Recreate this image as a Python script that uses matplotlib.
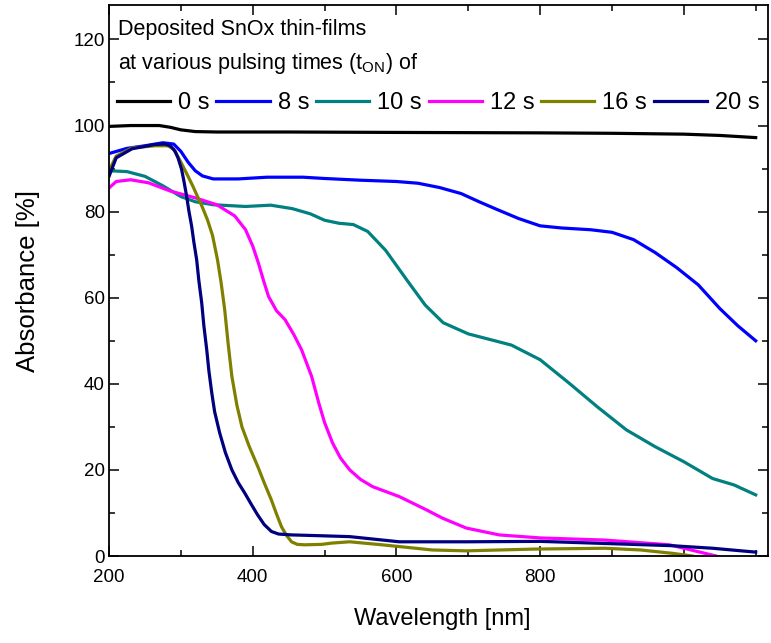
import matplotlib
matplotlib.use('Agg')
import matplotlib.pyplot as plt
from matplotlib.ticker import MultipleLocator

plt.rcParams['font.family'] = ['Liberation Sans', 'DejaVu Sans']
plt.rcParams['mathtext.fontset'] = 'custom'
plt.rcParams['mathtext.rm'] = 'Liberation Sans'
plt.rcParams['mathtext.it'] = 'Liberation Sans'

# absorbance spectra (wavelength nm, absorbance %)
wl_0s = [200, 230, 270, 285, 300, 320, 350, 450, 600, 800, 900, 1000, 1050, 1100]
ab_0s = [99.8, 100, 100, 99.6, 99.0, 98.6, 98.5, 98.5, 98.4, 98.3, 98.2, 98.0, 97.7, 97.2]

wl_8s = [200, 225, 250, 275, 290, 300, 310, 320, 330, 345, 380, 420, 470, 500, 550,
         600, 630, 660, 690, 715, 740, 770, 800, 830, 870, 900, 930, 960, 990, 1020,
         1050, 1075, 1100]
ab_8s = [93.5, 94.7, 95.3, 96.0, 95.7, 94.0, 91.5, 89.5, 88.3, 87.6, 87.6, 88.0, 88.0,
         87.7, 87.3, 87.0, 86.6, 85.6, 84.2, 82.3, 80.5, 78.4, 76.7, 76.2, 75.8, 75.2,
         73.5, 70.5, 67.0, 63.0, 57.5, 53.5, 50.0]

wl_10s = [200, 225, 250, 275, 300, 320, 345, 390, 425, 455, 480, 500, 520, 540, 560,
          585, 615, 640, 665, 700, 760, 800, 840, 880, 920, 960, 1000, 1040, 1070, 1100]
ab_10s = [89.5, 89.3, 88.2, 86.0, 83.5, 82.3, 81.6, 81.2, 81.5, 80.7, 79.5, 78.0, 77.3,
          77.0, 75.4, 71.0, 64.0, 58.3, 54.2, 51.6, 49.0, 45.6, 40.2, 34.6, 29.3, 25.4,
          21.9, 18.0, 16.5, 14.2]

wl_12s = [200, 210, 230, 255, 285, 320, 350, 375, 390, 400, 408, 415, 422, 433, 445,
          457, 468, 482, 492, 500, 511, 522, 535, 550, 567, 604, 642, 664, 697, 743,
          800, 890, 980, 1020, 1045, 1100]
ab_12s = [85.5, 87.0, 87.4, 86.7, 84.8, 83.2, 81.6, 79.0, 75.8, 72.0, 68.0, 64.0, 60.3,
          57.0, 54.9, 51.5, 47.9, 41.7, 35.5, 31.0, 26.3, 22.8, 20.0, 17.8, 16.1, 13.8,
          10.7, 8.8, 6.5, 4.9, 4.2, 3.7, 2.6, 1.0, 0.0, -4.0]

wl_16s = [200, 210, 232, 264, 282, 290, 300, 310, 317, 324, 330, 337, 344, 351, 356,
          361, 366, 371, 378, 385, 395, 407, 416, 426, 433, 440, 447, 454, 462, 472,
          496, 510, 535, 580, 650, 697, 790, 890, 940, 985, 1012, 1040, 1100]
ab_16s = [89.5, 92.9, 94.8, 95.3, 95.3, 94.5, 91.5, 88.2, 85.8, 83.2, 81.0, 78.1, 74.5,
          68.8, 63.5, 57.2, 49.0, 41.7, 35.0, 30.0, 25.5, 20.8, 17.0, 13.0, 9.8, 6.8,
          4.8, 3.3, 2.7, 2.6, 2.7, 3.0, 3.3, 2.6, 1.4, 1.2, 1.6, 1.8, 1.4, 0.6, 0.0,
          -1.5, -4.0]

wl_20s = [200, 210, 232, 264, 278, 286, 292, 296, 301, 304, 308, 311, 315, 318, 322,
          325, 329, 332, 336, 339, 343, 347, 354, 362, 371, 380, 389, 398, 407, 416,
          426, 436, 454, 496, 535, 604, 697, 800, 892, 983, 1040, 1100]
ab_20s = [88.2, 92.5, 94.6, 95.6, 95.7, 95.2, 94.0, 92.5, 89.8, 87.3, 83.6, 80.3, 76.6,
          73.0, 68.8, 64.0, 58.8, 53.5, 47.9, 43.0, 37.9, 33.5, 28.6, 24.0, 20.0, 17.0,
          14.6, 12.0, 9.5, 7.3, 5.7, 5.1, 4.9, 4.7, 4.5, 3.3, 3.3, 3.4, 2.9, 2.4, 1.8, 0.9]

labels = ['0 s', '8 s', '10 s', '12 s', '16 s', '20 s']
colors = ['#000000', '#0000ff', '#008080', '#ff00ff', '#808000', '#000080']

series = [(wl_0s, ab_0s), (wl_8s, ab_8s), (wl_10s, ab_10s),
          (wl_12s, ab_12s), (wl_16s, ab_16s), (wl_20s, ab_20s)]

fig = plt.figure(figsize=(7.71, 6.43), dpi=100)
ax = fig.add_axes([0.1414, 0.1353, 0.8546, 0.8569])

for (wl, ab), lab, col in zip(series, labels, colors):
    ax.plot(wl, ab, color=col, lw=2.3, label=lab, solid_joinstyle='round')

ax.set_xlim(200, 1117)
ax.set_ylim(0, 128)
ax.xaxis.set_major_locator(MultipleLocator(200))
ax.xaxis.set_minor_locator(MultipleLocator(100))
ax.yaxis.set_major_locator(MultipleLocator(20))
ax.yaxis.set_minor_locator(MultipleLocator(10))
ax.tick_params(which='both', direction='in', top=True, right=True, width=1.1)
ax.tick_params(which='major', length=7)
ax.tick_params(which='minor', length=4.5)
ax.tick_params(axis='x', labelsize=13.5, pad=9)
ax.tick_params(axis='y', labelsize=13.5, pad=3)
for s in ax.spines.values():
    s.set_linewidth(1.3)

ax.set_xlabel('Wavelength [nm]', fontsize=17, labelpad=10)
ax.xaxis.set_label_coords(0.505, -0.095)
ax.set_ylabel('Absorbance [%]', fontsize=18.5, labelpad=24)

ax.text(0.013, 0.945, 'Deposited SnOx thin-films', transform=ax.transAxes,
        fontsize=15.5, va='baseline')
ax.text(0.013, 0.883, r'at various pulsing times (t$_{\mathrm{ON}}$) of', transform=ax.transAxes,
        fontsize=15.5, va='baseline')

ax.legend(loc='center left', bbox_to_anchor=(0.012, 0.822), ncol=6, frameon=False,
          fontsize=17, handlelength=2.25, handletextpad=0.34, columnspacing=0.29,
          borderpad=0, borderaxespad=0)

plt.savefig('out.png', dpi=100)
